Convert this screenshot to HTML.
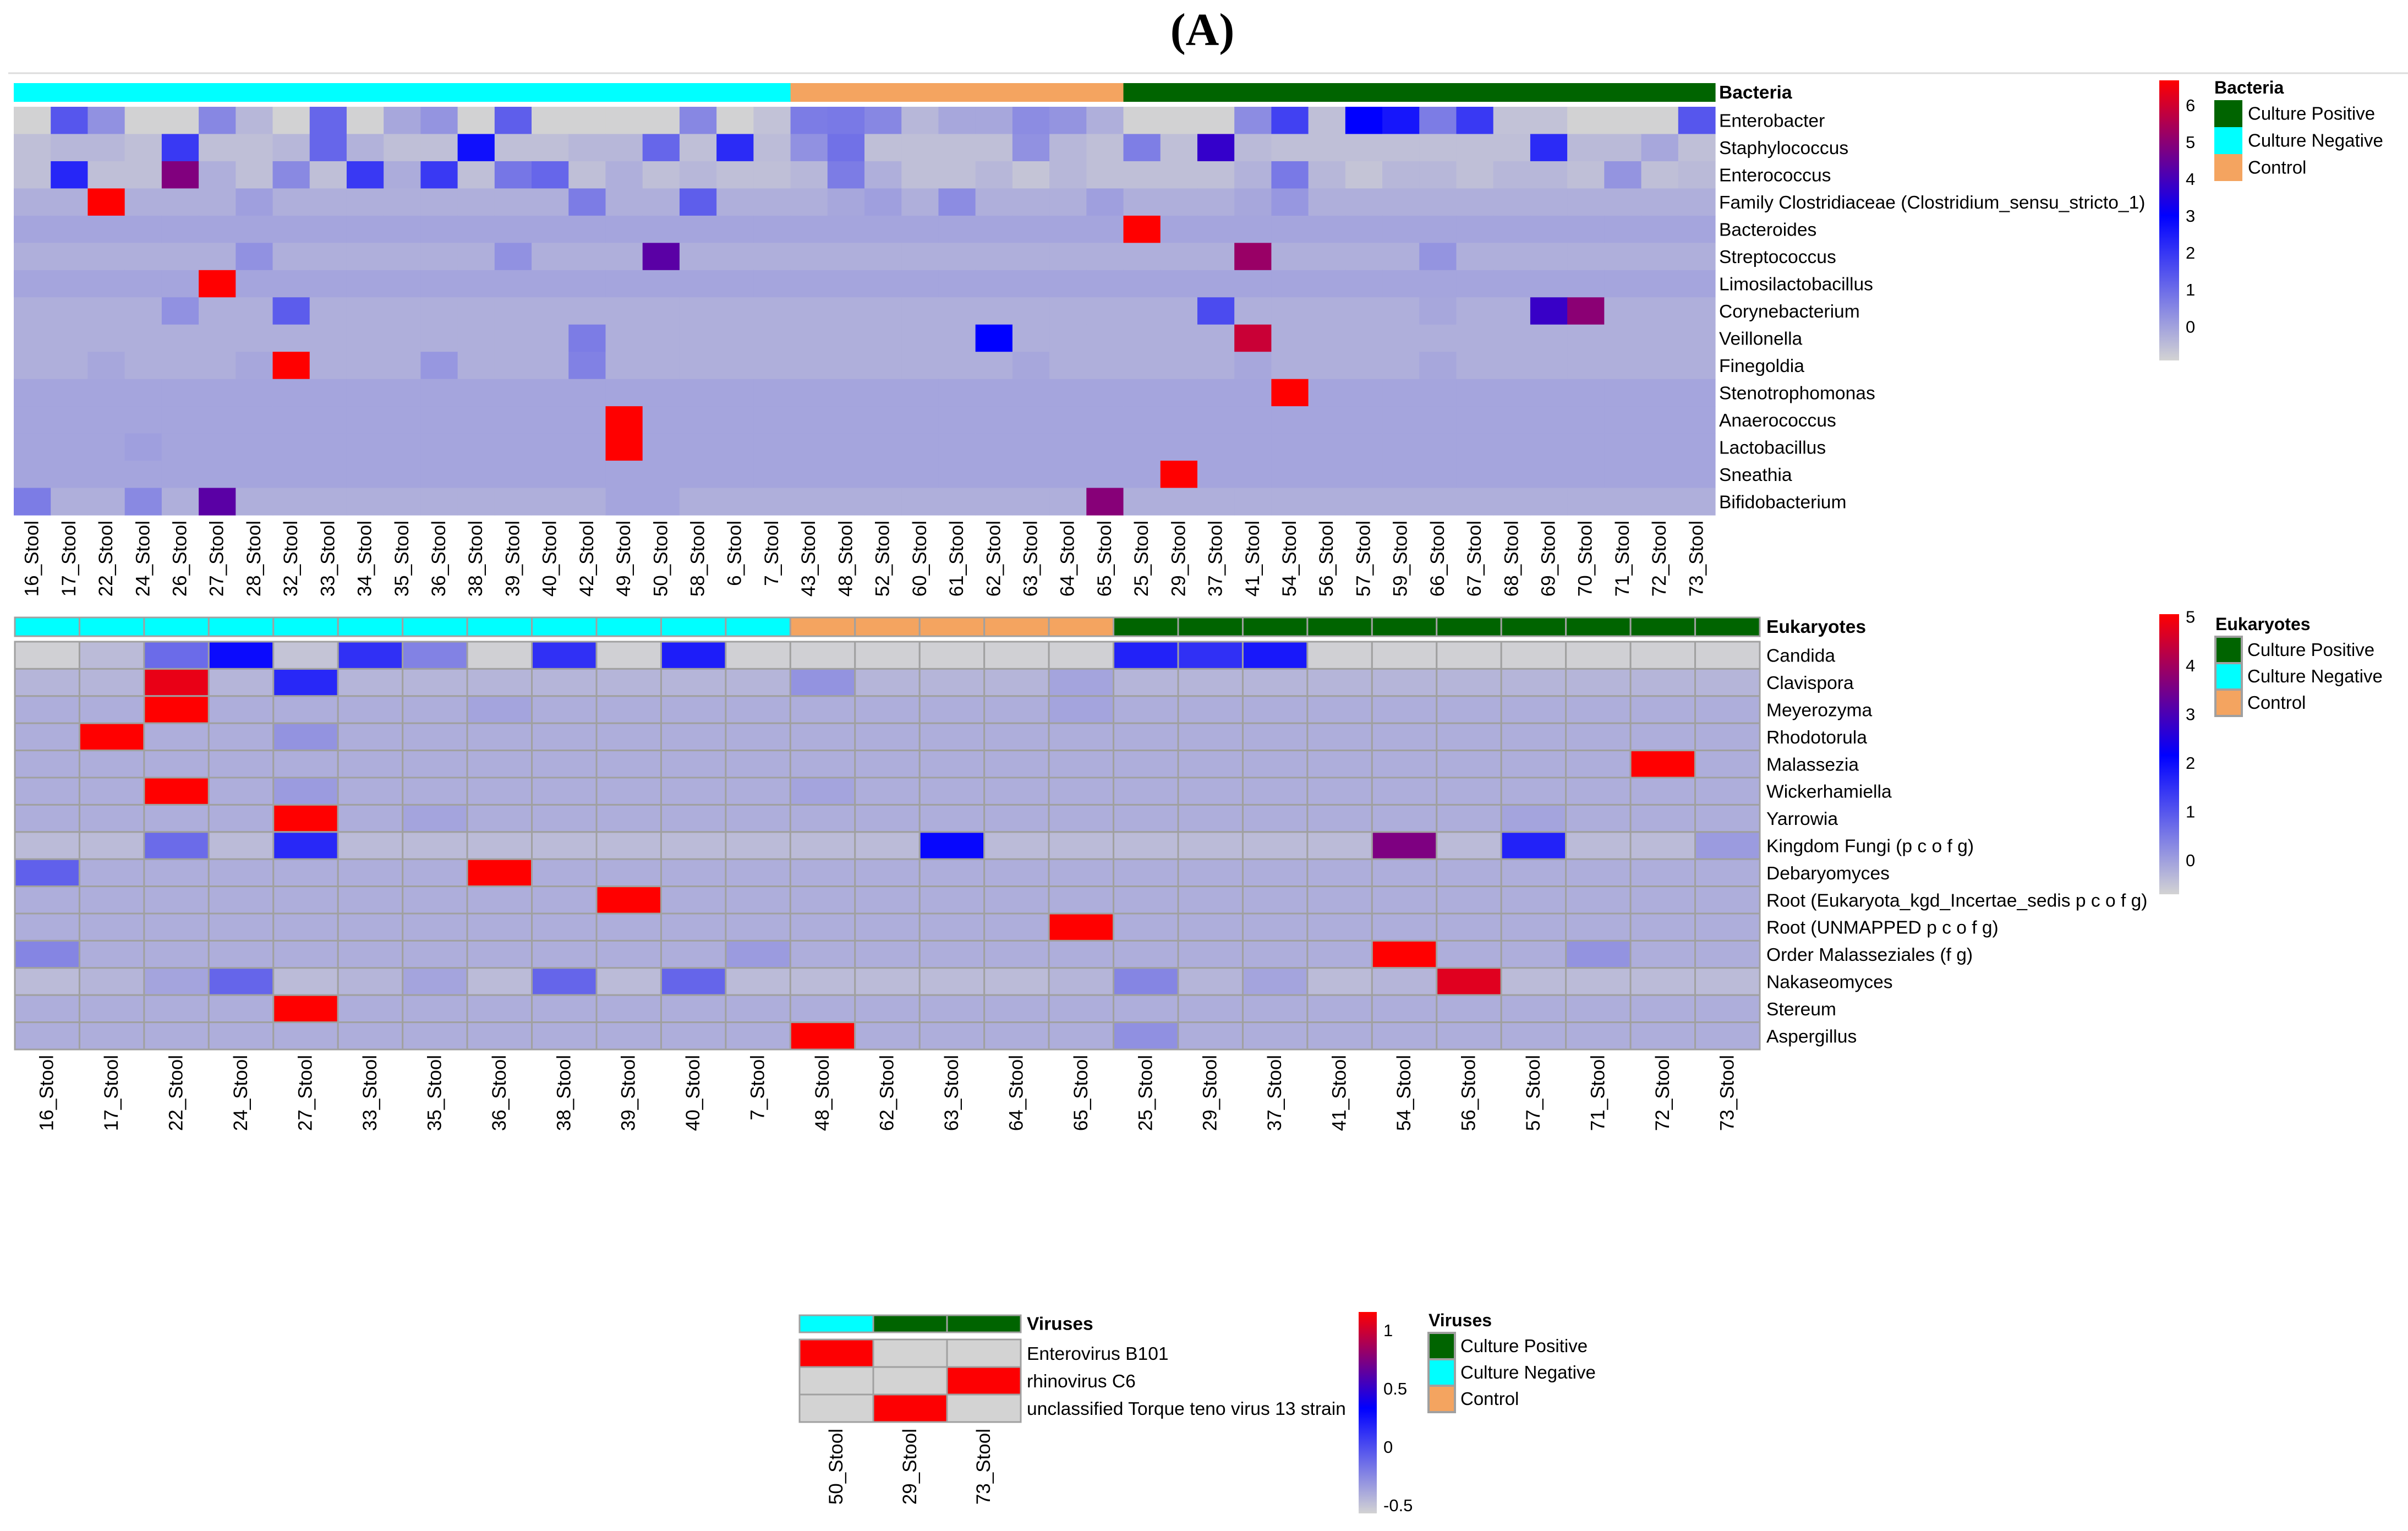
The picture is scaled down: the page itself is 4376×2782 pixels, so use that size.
<!DOCTYPE html>
<html><head><meta charset="utf-8"><style>
html,body{margin:0;padding:0;background:#fff;}
svg{display:block;font-family:"Liberation Sans",Arial,sans-serif;}
</style></head><body>
<svg id="fig" width="4376" height="2782" viewBox="0 0 4376 2782" xmlns="http://www.w3.org/2000/svg">
<defs>
<linearGradient id="gB" x1="0" y1="0" x2="0" y2="1"><stop offset="0" stop-color="#ff0000"/><stop offset="0.483" stop-color="#0000ff"/><stop offset="1" stop-color="#d3d3d3"/></linearGradient>
<linearGradient id="gE" x1="0" y1="0" x2="0" y2="1"><stop offset="0" stop-color="#ff0000"/><stop offset="0.504" stop-color="#0000ff"/><stop offset="1" stop-color="#d3d3d3"/></linearGradient>
<linearGradient id="gV" x1="0" y1="0" x2="0" y2="1"><stop offset="0" stop-color="#ff0000"/><stop offset="0.478" stop-color="#0000ff"/><stop offset="1" stop-color="#d3d3d3"/></linearGradient>
</defs>
<text x="2185" y="82" text-anchor="middle" font-family="Liberation Serif, serif" font-weight="bold" font-size="84">(A)</text>
<line x1="15" y1="133" x2="4376" y2="133" stroke="#dcdcdc" stroke-width="3"/>
<g id="bact"></g>
<g id="euk"></g>
<g id="vir"></g>
<g id="legs"></g>
</svg>
<script>
// ---------- Bacteria data ----------
const bactSamples = ["16","17","22","24","26","27","28","32","33","34","35","36","38","39","40","42","49","50","58","6","7","43","48","52","60","61","62","63","64","65","25","29","37","41","54","56","57","59","66","67","68","69","70","71","72","73"];
const bactGroups = ["N","N","N","N","N","N","N","N","N","N","N","N","N","N","N","N","N","N","N","N","N","C","C","C","C","C","C","C","C","C","P","P","P","P","P","P","P","P","P","P","P","P","P","P","P","P"];
const bactTaxa = ["Enterobacter","Staphylococcus","Enterococcus","Family Clostridiaceae (Clostridium_sensu_stricto_1)","Bacteroides","Streptococcus","Limosilactobacillus","Corynebacterium","Veillonella","Finegoldia","Stenotrophomonas","Anaerococcus","Lactobacillus","Sneathia","Bifidobacterium"];
const bactEnterobacter = [-0.9,1.4,0.3,-0.9,-0.9,0.5,-0.4,-0.9,1.1,-0.9,-0.1,0.25,-0.9,1.25,-0.9,-0.9,-0.9,-0.9,0.5,-0.9,-0.6,0.7,0.75,0.5,-0.4,-0.1,-0.1,0.4,0.25,-0.25,-0.9,-0.9,-0.9,0.4,1.8,-0.55,3.0,2.6,0.7,1.95,-0.6,-0.6,-0.9,-0.9,-0.9,1.4];
const bactStaphylococcus = [-0.55,-0.4,-0.4,-0.55,1.95,-0.55,-0.55,-0.4,1.1,-0.3,-0.55,-0.55,2.7,-0.55,-0.55,-0.4,-0.4,1.1,-0.55,2.2,-0.5,0.3,0.9,-0.55,-0.55,-0.55,-0.55,0.3,-0.4,-0.55,0.65,-0.55,3.75,-0.45,-0.55,-0.55,-0.55,-0.55,-0.55,-0.55,-0.55,2.2,-0.45,-0.45,-0.1,-0.55];
const bactEnterococcus = [-0.55,2.3,-0.55,-0.55,4.85,-0.25,-0.55,0.45,-0.55,1.95,-0.2,1.95,-0.55,0.8,1.1,-0.55,-0.25,-0.55,-0.4,-0.55,-0.55,-0.4,0.7,-0.25,-0.55,-0.55,-0.4,-0.65,-0.4,-0.55,-0.55,-0.55,-0.55,-0.3,0.75,-0.4,-0.65,-0.4,-0.4,-0.55,-0.4,-0.4,-0.55,0.25,-0.55,-0.45];
const bactClostridiaceae = [-0.25,-0.25,6.67,-0.25,-0.25,-0.25,0.05,-0.25,-0.25,-0.25,-0.25,-0.25,-0.25,-0.25,-0.25,0.7,-0.25,-0.25,1.25,-0.25,-0.25,-0.25,-0.1,0.05,-0.25,0.4,-0.25,-0.25,-0.25,0.05,-0.25,-0.25,-0.25,-0.1,0.2,-0.25,-0.25,-0.25,-0.25,-0.25,-0.25,-0.25,-0.25,-0.25,-0.25,-0.25];
const bactBacteroides = [-0.07,-0.07,-0.07,-0.07,-0.07,-0.07,-0.07,-0.07,-0.07,-0.07,-0.07,-0.07,-0.07,-0.07,-0.07,-0.07,-0.07,-0.07,-0.07,-0.07,-0.07,-0.07,-0.07,-0.07,-0.07,-0.07,-0.07,-0.07,-0.07,-0.07,6.67,-0.07,-0.07,-0.07,-0.07,-0.07,-0.07,-0.07,-0.07,-0.07,-0.07,-0.07,-0.07,-0.07,-0.07,-0.07];
const bactStreptococcus = [-0.25,-0.25,-0.25,-0.25,-0.25,-0.25,0.3,-0.25,-0.25,-0.25,-0.25,-0.25,-0.25,0.3,-0.25,-0.25,-0.25,4.3,-0.25,-0.25,-0.25,-0.25,-0.25,-0.25,-0.25,-0.25,-0.25,-0.25,-0.25,-0.25,-0.25,-0.25,-0.25,5.2,-0.25,-0.25,-0.25,-0.25,0.25,-0.25,-0.25,-0.25,-0.25,-0.25,-0.25,-0.25];
const bactLimosilactobacillus = [-0.07,-0.07,-0.07,-0.07,-0.07,6.67,-0.07,-0.07,-0.07,-0.07,-0.07,-0.07,-0.07,-0.07,-0.07,-0.07,-0.07,-0.07,-0.07,-0.07,-0.07,-0.07,-0.07,-0.07,-0.07,-0.07,-0.07,-0.07,-0.07,-0.07,-0.07,-0.07,-0.07,-0.07,-0.07,-0.07,-0.07,-0.07,-0.07,-0.07,-0.07,-0.07,-0.07,-0.07,-0.07,-0.07];
const bactCorynebacterium = [-0.25,-0.25,-0.25,-0.25,0.3,-0.25,-0.25,1.3,-0.25,-0.25,-0.25,-0.25,-0.25,-0.25,-0.25,-0.25,-0.25,-0.25,-0.25,-0.25,-0.25,-0.25,-0.25,-0.25,-0.25,-0.25,-0.25,-0.25,-0.25,-0.25,-0.25,-0.25,1.6,-0.25,-0.25,-0.25,-0.25,-0.25,-0.1,-0.25,-0.25,3.8,5.0,-0.25,-0.25,-0.25];
const bactVeillonella = [-0.25,-0.25,-0.25,-0.25,-0.25,-0.25,-0.25,-0.25,-0.25,-0.25,-0.25,-0.25,-0.25,-0.25,-0.25,0.7,-0.25,-0.25,-0.25,-0.25,-0.25,-0.25,-0.25,-0.25,-0.25,-0.25,3.0,-0.25,-0.25,-0.25,-0.25,-0.25,-0.25,5.9,-0.25,-0.25,-0.25,-0.25,-0.25,-0.25,-0.25,-0.25,-0.25,-0.25,-0.25,-0.25];
const bactFinegoldia = [-0.25,-0.25,-0.1,-0.25,-0.25,-0.25,-0.1,6.67,-0.25,-0.25,-0.25,0.2,-0.25,-0.25,-0.25,0.6,-0.25,-0.25,-0.25,-0.25,-0.25,-0.25,-0.25,-0.25,-0.25,-0.25,-0.25,-0.1,-0.25,-0.25,-0.25,-0.25,-0.25,-0.1,-0.25,-0.25,-0.25,-0.25,-0.1,-0.25,-0.25,-0.25,-0.25,-0.25,-0.25,-0.25];
const bactStenotrophomonas = [-0.07,-0.07,-0.07,-0.07,-0.07,-0.07,-0.07,-0.07,-0.07,-0.07,-0.07,-0.07,-0.07,-0.07,-0.07,-0.07,-0.07,-0.07,-0.07,-0.07,-0.07,-0.07,-0.07,-0.07,-0.07,-0.07,-0.07,-0.07,-0.07,-0.07,-0.07,-0.07,-0.07,-0.07,6.67,-0.07,-0.07,-0.07,-0.07,-0.07,-0.07,-0.07,-0.07,-0.07,-0.07,-0.07];
const bactAnaerococcus = [-0.07,-0.07,-0.07,-0.07,-0.07,-0.07,-0.07,-0.07,-0.07,-0.07,-0.07,-0.07,-0.07,-0.07,-0.07,-0.07,6.67,-0.07,-0.07,-0.07,-0.07,-0.07,-0.07,-0.07,-0.07,-0.07,-0.07,-0.07,-0.07,-0.07,-0.07,-0.07,-0.07,-0.07,-0.07,-0.07,-0.07,-0.07,-0.07,-0.07,-0.07,-0.07,-0.07,-0.07,-0.07,-0.07];
const bactLactobacillus = [-0.07,-0.07,-0.07,0.05,-0.07,-0.07,-0.07,-0.07,-0.07,-0.07,-0.07,-0.07,-0.07,-0.07,-0.07,-0.07,6.67,-0.07,-0.07,-0.07,-0.07,-0.07,-0.07,-0.07,-0.07,-0.07,-0.07,-0.07,-0.07,-0.07,-0.07,-0.07,-0.07,-0.07,-0.07,-0.07,-0.07,-0.07,-0.07,-0.07,-0.07,-0.07,-0.07,-0.07,-0.07,-0.07];
const bactSneathia = [-0.07,-0.07,-0.07,-0.07,-0.07,-0.07,-0.07,-0.07,-0.07,-0.07,-0.07,-0.07,-0.07,-0.07,-0.07,-0.07,-0.07,-0.07,-0.07,-0.07,-0.07,-0.07,-0.07,-0.07,-0.07,-0.07,-0.07,-0.07,-0.07,-0.07,-0.07,6.67,-0.07,-0.07,-0.07,-0.07,-0.07,-0.07,-0.07,-0.07,-0.07,-0.07,-0.07,-0.07,-0.07,-0.07];
const bactBifidobacterium = [0.7,-0.25,-0.25,0.45,-0.25,4.3,-0.25,-0.25,-0.25,-0.25,-0.25,-0.25,-0.25,-0.25,-0.25,-0.25,-0.07,-0.07,-0.25,-0.25,-0.25,-0.25,-0.25,-0.25,-0.25,-0.25,-0.25,-0.25,-0.25,4.95,-0.25,-0.25,-0.25,-0.25,-0.25,-0.25,-0.25,-0.25,-0.25,-0.25,-0.25,-0.25,-0.25,-0.25,-0.25,-0.25];
const bactTicks = [0,1,2,3,4,5,6];

// ---------- Eukaryote data ----------
const eukSamples = ["16","17","22","24","27","33","35","36","38","39","40","7","48","62","63","64","65","25","29","37","41","54","56","57","71","72","73"];
const eukGroups = ["N","N","N","N","N","N","N","N","N","N","N","N","C","C","C","C","C","P","P","P","P","P","P","P","P","P","P"];
const eukTaxa = ["Candida","Clavispora","Meyerozyma","Rhodotorula","Malassezia","Wickerhamiella","Yarrowia","Kingdom Fungi (p c o f g)","Debaryomyces","Root (Eukaryota_kgd_Incertae_sedis p c o f g)","Root (UNMAPPED p c o f g)","Order Malasseziales (f g)","Nakaseomyces","Stereum","Aspergillus"];
const eukCandida = [-0.66,-0.38,0.7,2.0,-0.5,1.5,0.4,-0.66,1.5,-0.66,1.76,-0.66,-0.66,-0.66,-0.66,-0.66,-0.66,1.69,1.5,1.82,-0.66,-0.66,-0.66,-0.66,-0.66,-0.66,-0.66];
const eukClavispora = [-0.3,-0.3,4.8,-0.3,1.61,-0.3,-0.3,-0.3,-0.3,-0.3,-0.3,-0.3,0.16,-0.3,-0.3,-0.3,-0.07,-0.3,-0.3,-0.3,-0.3,-0.3,-0.3,-0.3,-0.3,-0.3,-0.3];
const eukMeyerozyma = [-0.2,-0.2,5.05,-0.2,-0.2,-0.2,-0.2,-0.07,-0.2,-0.2,-0.2,-0.2,-0.2,-0.2,-0.2,-0.2,-0.07,-0.2,-0.2,-0.2,-0.2,-0.2,-0.2,-0.2,-0.2,-0.2,-0.2];
const eukRhodotorula = [-0.2,5.05,-0.2,-0.2,0.16,-0.2,-0.2,-0.2,-0.2,-0.2,-0.2,-0.2,-0.2,-0.2,-0.2,-0.2,-0.2,-0.2,-0.2,-0.2,-0.2,-0.2,-0.2,-0.2,-0.2,-0.2,-0.2];
const eukMalassezia = [-0.2,-0.2,-0.2,-0.2,-0.2,-0.2,-0.2,-0.2,-0.2,-0.2,-0.2,-0.2,-0.2,-0.2,-0.2,-0.2,-0.2,-0.2,-0.2,-0.2,-0.2,-0.2,-0.2,-0.2,-0.2,5.05,-0.2];
const eukWickerhamiella = [-0.2,-0.2,5.05,-0.2,0.05,-0.2,-0.2,-0.2,-0.2,-0.2,-0.2,-0.2,-0.07,-0.2,-0.2,-0.2,-0.2,-0.2,-0.2,-0.2,-0.2,-0.2,-0.2,-0.2,-0.2,-0.2,-0.2];
const eukYarrowia = [-0.2,-0.2,-0.2,-0.2,5.05,-0.2,-0.07,-0.2,-0.2,-0.2,-0.2,-0.2,-0.2,-0.2,-0.2,-0.2,-0.2,-0.2,-0.2,-0.2,-0.2,-0.2,-0.2,-0.07,-0.2,-0.2,-0.2];
const eukKingdomFungi = [-0.38,-0.38,0.7,-0.38,1.61,-0.38,-0.38,-0.38,-0.38,-0.38,-0.38,-0.38,-0.38,-0.38,2.05,-0.38,-0.38,-0.38,-0.38,-0.38,-0.38,3.58,-0.38,1.69,-0.38,-0.38,0.05];
const eukDebaryomyces = [0.86,-0.2,-0.2,-0.2,-0.2,-0.2,-0.2,5.05,-0.2,-0.2,-0.2,-0.2,-0.2,-0.2,-0.2,-0.2,-0.2,-0.2,-0.2,-0.2,-0.2,-0.2,-0.2,-0.2,-0.2,-0.2,-0.2];
const eukRootIncertae = [-0.2,-0.2,-0.2,-0.2,-0.2,-0.2,-0.2,-0.2,-0.2,5.05,-0.2,-0.2,-0.2,-0.2,-0.2,-0.2,-0.2,-0.2,-0.2,-0.2,-0.2,-0.2,-0.2,-0.2,-0.2,-0.2,-0.2];
const eukRootUnmapped = [-0.2,-0.2,-0.2,-0.2,-0.2,-0.2,-0.2,-0.2,-0.2,-0.2,-0.2,-0.2,-0.2,-0.2,-0.2,-0.2,5.05,-0.2,-0.2,-0.2,-0.2,-0.2,-0.2,-0.2,-0.2,-0.2,-0.2];
const eukMalasseziales = [0.35,-0.2,-0.2,-0.2,-0.2,-0.2,-0.2,-0.2,-0.2,-0.2,-0.2,0.05,-0.2,-0.2,-0.2,-0.2,-0.2,-0.2,-0.2,-0.2,-0.2,5.05,-0.2,-0.2,0.16,-0.2,-0.2];
const eukNakaseomyces = [-0.38,-0.3,-0.07,0.78,-0.38,-0.3,-0.07,-0.38,0.78,-0.38,0.78,-0.38,-0.38,-0.38,-0.38,-0.38,-0.3,0.35,-0.3,-0.07,-0.38,-0.3,4.7,-0.38,-0.38,-0.38,-0.38];
const eukStereum = [-0.2,-0.2,-0.2,-0.2,5.05,-0.2,-0.2,-0.2,-0.2,-0.2,-0.2,-0.2,-0.2,-0.2,-0.2,-0.2,-0.2,-0.2,-0.2,-0.2,-0.2,-0.2,-0.2,-0.2,-0.2,-0.2,-0.2];
const eukAspergillus = [-0.2,-0.2,-0.2,-0.2,-0.2,-0.2,-0.2,-0.2,-0.2,-0.2,-0.2,-0.2,5.05,-0.2,-0.2,-0.2,-0.2,0.2,-0.2,-0.2,-0.2,-0.2,-0.2,-0.2,-0.2,-0.2,-0.2];
const eukTicks = [0,1,2,3,4,5];

// ---------- Virus data ----------
const virSamples = ["50","29","73"];
const virGroups = ["N","P","P"];
const virTaxa = ["Enterovirus B101","rhinovirus C6","unclassified Torque teno virus 13 strain"];
const virEnterovirus = [1.15,-0.57,-0.57];
const virRhinovirus = [-0.57,-0.57,1.15];
const virTorque = [-0.57,1.15,-0.57];
const virTicks = [-0.5,0,0.5,1];

const bactValues = [bactEnterobacter,bactStaphylococcus,bactEnterococcus,bactClostridiaceae,bactBacteroides,bactStreptococcus,bactLimosilactobacillus,bactCorynebacterium,bactVeillonella,bactFinegoldia,bactStenotrophomonas,bactAnaerococcus,bactLactobacillus,bactSneathia,bactBifidobacterium];
const eukValues = [eukCandida,eukClavispora,eukMeyerozyma,eukRhodotorula,eukMalassezia,eukWickerhamiella,eukYarrowia,eukKingdomFungi,eukDebaryomyces,eukRootIncertae,eukRootUnmapped,eukMalasseziales,eukNakaseomyces,eukStereum,eukAspergillus];
const virValues = [virEnterovirus,virRhinovirus,virTorque];

const NS = "http://www.w3.org/2000/svg";
const GROUPCOL = {P:"#006400",N:"#00ffff",C:"#f4a460"};
function mk(parent, tag, attrs, txt){
  const e = document.createElementNS(NS, tag);
  for (const k in attrs) e.setAttribute(k, attrs[k]);
  if (txt !== undefined) e.textContent = txt;
  parent.appendChild(e); return e;
}
function mix(a,b,t){t=Math.max(0,Math.min(1,t));return [0,1,2].map(i=>Math.round(a[i]+(b[i]-a[i])*t));}
function colorScale(lo, mid, hi){
  return function(v){
    let c;
    if (v <= mid) c = mix([211,211,211],[0,0,255],(v-lo)/(mid-lo));
    else c = mix([0,0,255],[255,0,0],(v-mid)/(hi-mid));
    return "rgb("+c.join(",")+")";
  };
}
function drawHeatmap(cfg){
  const g = document.getElementById(cfg.id);
  const nC = cfg.samples.length, nR = cfg.taxa.length;
  const cw = (cfg.x1 - cfg.x0)/nC, rh = (cfg.y1 - cfg.y0)/nR;
  const xs = i => cfg.x0 + i*cw, ys = j => cfg.y0 + j*rh;
  const col = colorScale(cfg.lo, cfg.mid, cfg.hi);
  cfg.groups.forEach((gr,i)=>{
    const r = mk(g,"rect",{x:xs(i),y:cfg.ay0,width:cw+(cfg.grid?0:0.6),height:cfg.ay1-cfg.ay0,fill:GROUPCOL[gr]});
    if (cfg.grid){ r.setAttribute("stroke","#a0a0a0"); r.setAttribute("stroke-width",cfg.grid); }
    
    
  });
  const at = mk(g,"text",{x:cfg.lx,y:(cfg.ay0+cfg.ay1)/2+11,"font-size":cfg.fs,"font-weight":"bold"},cfg.title);
  
  
  cfg.values.forEach((row,j)=>{
    row.forEach((v,i)=>{
      const r = mk(g,"rect",{x:xs(i),y:ys(j),width:cw+(cfg.grid?0:0.6),height:rh+(cfg.grid?0:0.6),fill:col(v)});
      if (cfg.grid){ r.setAttribute("stroke","#a0a0a0"); r.setAttribute("stroke-width",cfg.grid); }
      
      
    });
    const t = mk(g,"text",{x:cfg.lx,y:ys(j)+rh/2+12,"font-size":cfg.fs},cfg.taxa[j]);
    
    
  });
  cfg.samples.forEach((s,i)=>{
    const cx = xs(i)+cw/2+11, ty = cfg.y1 + cfg.lgap;
    const t = mk(g,"text",{x:cx,y:ty,"font-size":cfg.cfs,"text-anchor":"end",transform:"rotate(-90 "+cx+" "+ty+")"},s+"_Stool");
    
    
  });
}
drawHeatmap({id:"bact",samples:bactSamples,groups:bactGroups,taxa:bactTaxa,values:bactValues,
  x0:25,x1:3117,y0:194,y1:936,ay0:151,ay1:185,lx:3124,fs:33.6,cfs:35,lgap:10,title:"Bacteria",lo:-0.92,mid:3.0,hi:6.67,grid:0});
drawHeatmap({id:"euk",samples:eukSamples,groups:eukGroups,taxa:eukTaxa,values:eukValues,
  x0:27,x1:3198,y0:1166,y1:1907,ay0:1122,ay1:1156,lx:3210,fs:33.6,cfs:35,lgap:10,title:"Eukaryotes",lo:-0.7,mid:2.15,hi:5.05,grid:3});
drawHeatmap({id:"vir",samples:virSamples,groups:virGroups,taxa:virTaxa,values:virValues,
  x0:1453,x1:1855,y0:2434,y1:2584,ay0:2390,ay1:2421,lx:1866,fs:33.6,cfs:35,lgap:12,title:"Viruses",lo:-0.57,mid:0.33,hi:1.155,grid:3});

function drawLegend(cfg){
  const g = document.getElementById("legs");
  const bar = mk(g,"rect",{x:cfg.bx,y:cfg.by0,width:cfg.bw,height:cfg.by1-cfg.by0,fill:"url(#"+cfg.grad+")"});
  
  
  const ty = v => cfg.by0 + (cfg.vmax - v)/(cfg.vmax - cfg.vmin)*(cfg.by1-cfg.by0);
  cfg.ticks.forEach(v=>{
    const t = mk(g,"text",{x:cfg.bx+cfg.bw+12,y:ty(v)+11,"font-size":cfg.tfs},String(v));
    
    
  });
  const tt = mk(g,"text",{x:cfg.kx,y:cfg.ky-12,"font-size":32,"font-weight":"bold"},cfg.title);
  
  
  const labels = [["P","Culture Positive"],["N","Culture Negative"],["C","Control"]];
  labels.forEach((l,i)=>{
    const y = cfg.ky + i*cfg.kh;
    const r = mk(g,"rect",{x:cfg.kx,y:y,width:cfg.kw,height:cfg.kh,fill:GROUPCOL[l[0]]});
    if (cfg.kborder){ r.setAttribute("stroke","#a0a0a0"); r.setAttribute("stroke-width",4); }
    
    
    const t = mk(g,"text",{x:cfg.kx+cfg.kw+10,y:y+cfg.kh/2+11,"font-size":33},l[1]);
    
    
  });
}
drawLegend({bx:3924,bw:36,by0:146,by1:655,vmin:-0.92,vmax:6.67,ticks:bactTicks,tfs:31,grad:"gB",title:"Bacteria",kx:4024,ky:182,kw:51,kh:49,kborder:false});
drawLegend({bx:3924,bw:36,by0:1116,by1:1625,vmin:-0.7,vmax:5.05,ticks:eukTicks,tfs:31,grad:"gE",title:"Eukaryotes",kx:4026,ky:1157,kw:48,kh:48,kborder:true});
drawLegend({bx:2469,bw:33,by0:2384,by1:2750,vmin:-0.57,vmax:1.155,ticks:virTicks,tfs:31,grad:"gV",title:"Viruses",kx:2596,ky:2422,kw:48,kh:48,kborder:true});
</script>
</body></html>
